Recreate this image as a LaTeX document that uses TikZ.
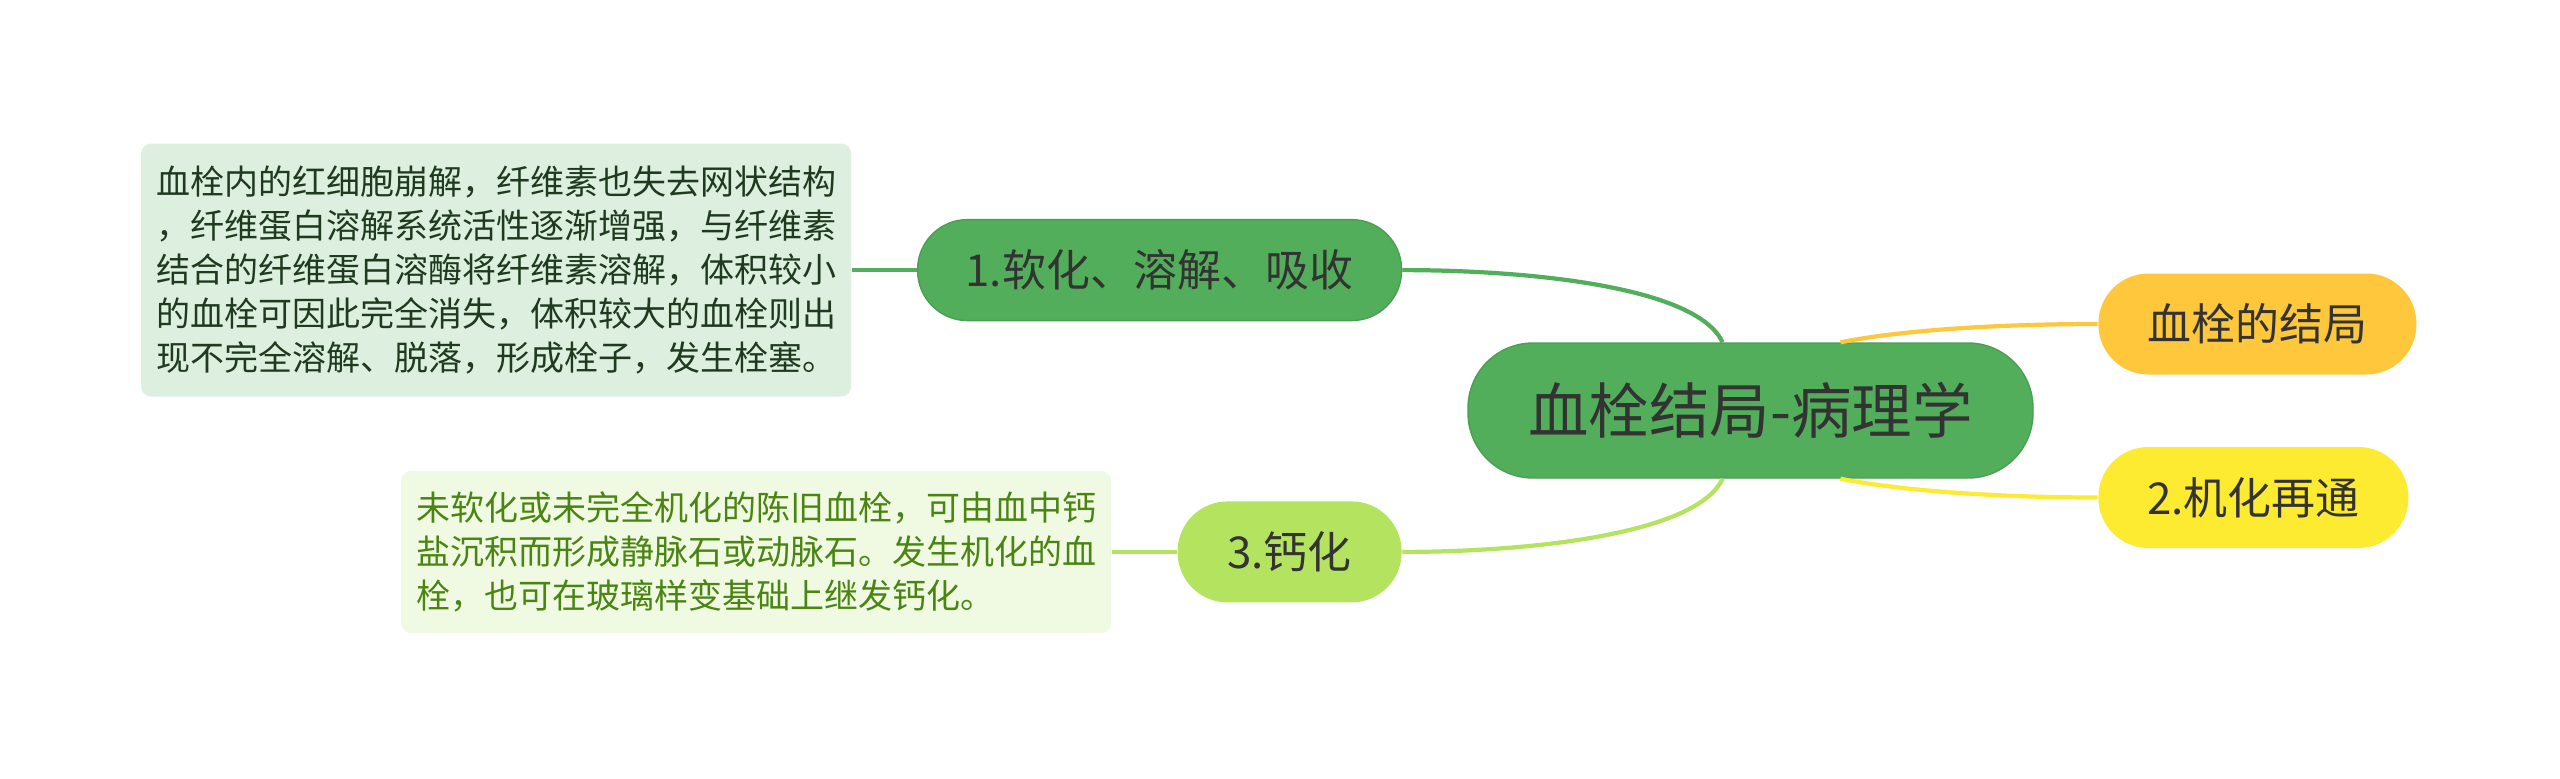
\documentclass[tikz,border=0pt]{standalone}
\usepackage{fontspec}
\setmainfont{Noto Sans CJK SC}
\usepackage{tikz}
\usepackage{xcolor}
\usetikzlibrary{positioning}

\definecolor{maingreen}{HTML}{52AE5B}
\definecolor{mainedge}{HTML}{4A9F52}
\definecolor{limegreen}{HTML}{B4E35F}
\definecolor{amber}{HTML}{FFC83C}
\definecolor{lemon}{HTML}{FDEB32}
\definecolor{notefill}{HTML}{DDEFDF}
\definecolor{notetext}{HTML}{1F3A1F}
\definecolor{calcfill}{HTML}{F0F9E2}
\definecolor{calctext}{HTML}{4A8512}
\definecolor{darktext}{HTML}{333333}

\tikzset{
  topic/.style={rounded corners=0.5cm, minimum height=1.01cm, text=darktext,
    font=\fontsize{12.5pt}{15pt}\selectfont},
  notebox/.style={rounded corners=0.1cm, align=left, inner xsep=0.15cm,
    minimum width=7.1cm, font=\fontsize{9.67pt}{12.52pt}\selectfont},
  link/.style={line width=1.2pt}
}

\begin{document}
\begin{tikzpicture}
                            % Canvas
                            \fill[white] (0,0) rectangle (25.6,7.78);
                            \useasboundingbox (0,0) rectangle (25.6,7.78);

                            % Central topic
                            \node[fill=maingreen, draw=mainedge, rounded corners=0.65cm,
                                  minimum width=5.65cm, minimum height=1.35cm, text=darktext,
                                  font=\fontsize{17.2pt}{21pt}\selectfont]
                                  (root) at (17.505,3.675) {血栓结局-病理学};

                            % Branches
                            \node[topic, fill=maingreen, draw=mainedge, minimum width=4.84cm,
                                  above left=0.21cm and 0.65cm of root] (soft) {1.软化、溶解、吸收};
                            \node[topic, fill=limegreen, minimum width=2.24cm,
                                  below left=0.22cm and 0.65cm of root] (calc) {3.钙化};
                            \node[topic, fill=amber, minimum width=3.18cm,
                                  right=0.64cm of root, yshift=0.865cm] (fate) {血栓的结局};
                            \node[topic, fill=lemon, minimum width=3.1cm,
                                  right=0.64cm of root, yshift=-0.87cm] (reflow) {2.机化再通};

                            % Notes
                            \node[notebox, fill=notefill, text=notetext, minimum height=2.53cm,
                                  left=0.65cm of soft] (softnote)
                                  {血栓内的红细胞崩解，纤维素也失去网状结构\\
                                   ，纤维蛋白溶解系统活性逐渐增强，与纤维素\\
                                   结合的纤维蛋白溶酶将纤维素溶解，体积较小\\
                                   的血栓可因此完全消失，体积较大的血栓则出\\
                                   现不完全溶解、脱落，形成栓子，发生栓塞。};
                            \node[notebox, fill=calcfill, text=calctext, minimum height=1.62cm,
                                  left=0.65cm of calc] (calcnote)
                                  {未软化或未完全机化的陈旧血栓，可由血中钙\\
                                   盐沉积而形成静脉石或动脉石。发生机化的血\\
                                   栓，也可在玻璃样变基础上继发钙化。};

                            % Connectors
                            \draw[link, maingreen] ([xshift=-0.28cm]root.north)
                                  .. controls +(-0.25,0.55) and +(1.3,0) .. (soft.east);
                            \draw[link, limegreen] ([xshift=-0.28cm]root.south)
                                  .. controls +(-0.25,-0.55) and +(1.3,0) .. (calc.east);
                            \draw[link, amber] ([xshift=0.9cm]root.north)
                                  .. controls +(0.6,0.12) and +(-1.0,0) .. (fate.west);
                            \draw[link, lemon] ([xshift=0.9cm]root.south)
                                  .. controls +(0.6,-0.12) and +(-1.0,0) .. (reflow.west);
                            \draw[link, maingreen] (soft.west) -- (softnote.east);
                            \draw[link, limegreen] (calc.west) -- (calcnote.east);
                      \end{tikzpicture}
\end{document}
